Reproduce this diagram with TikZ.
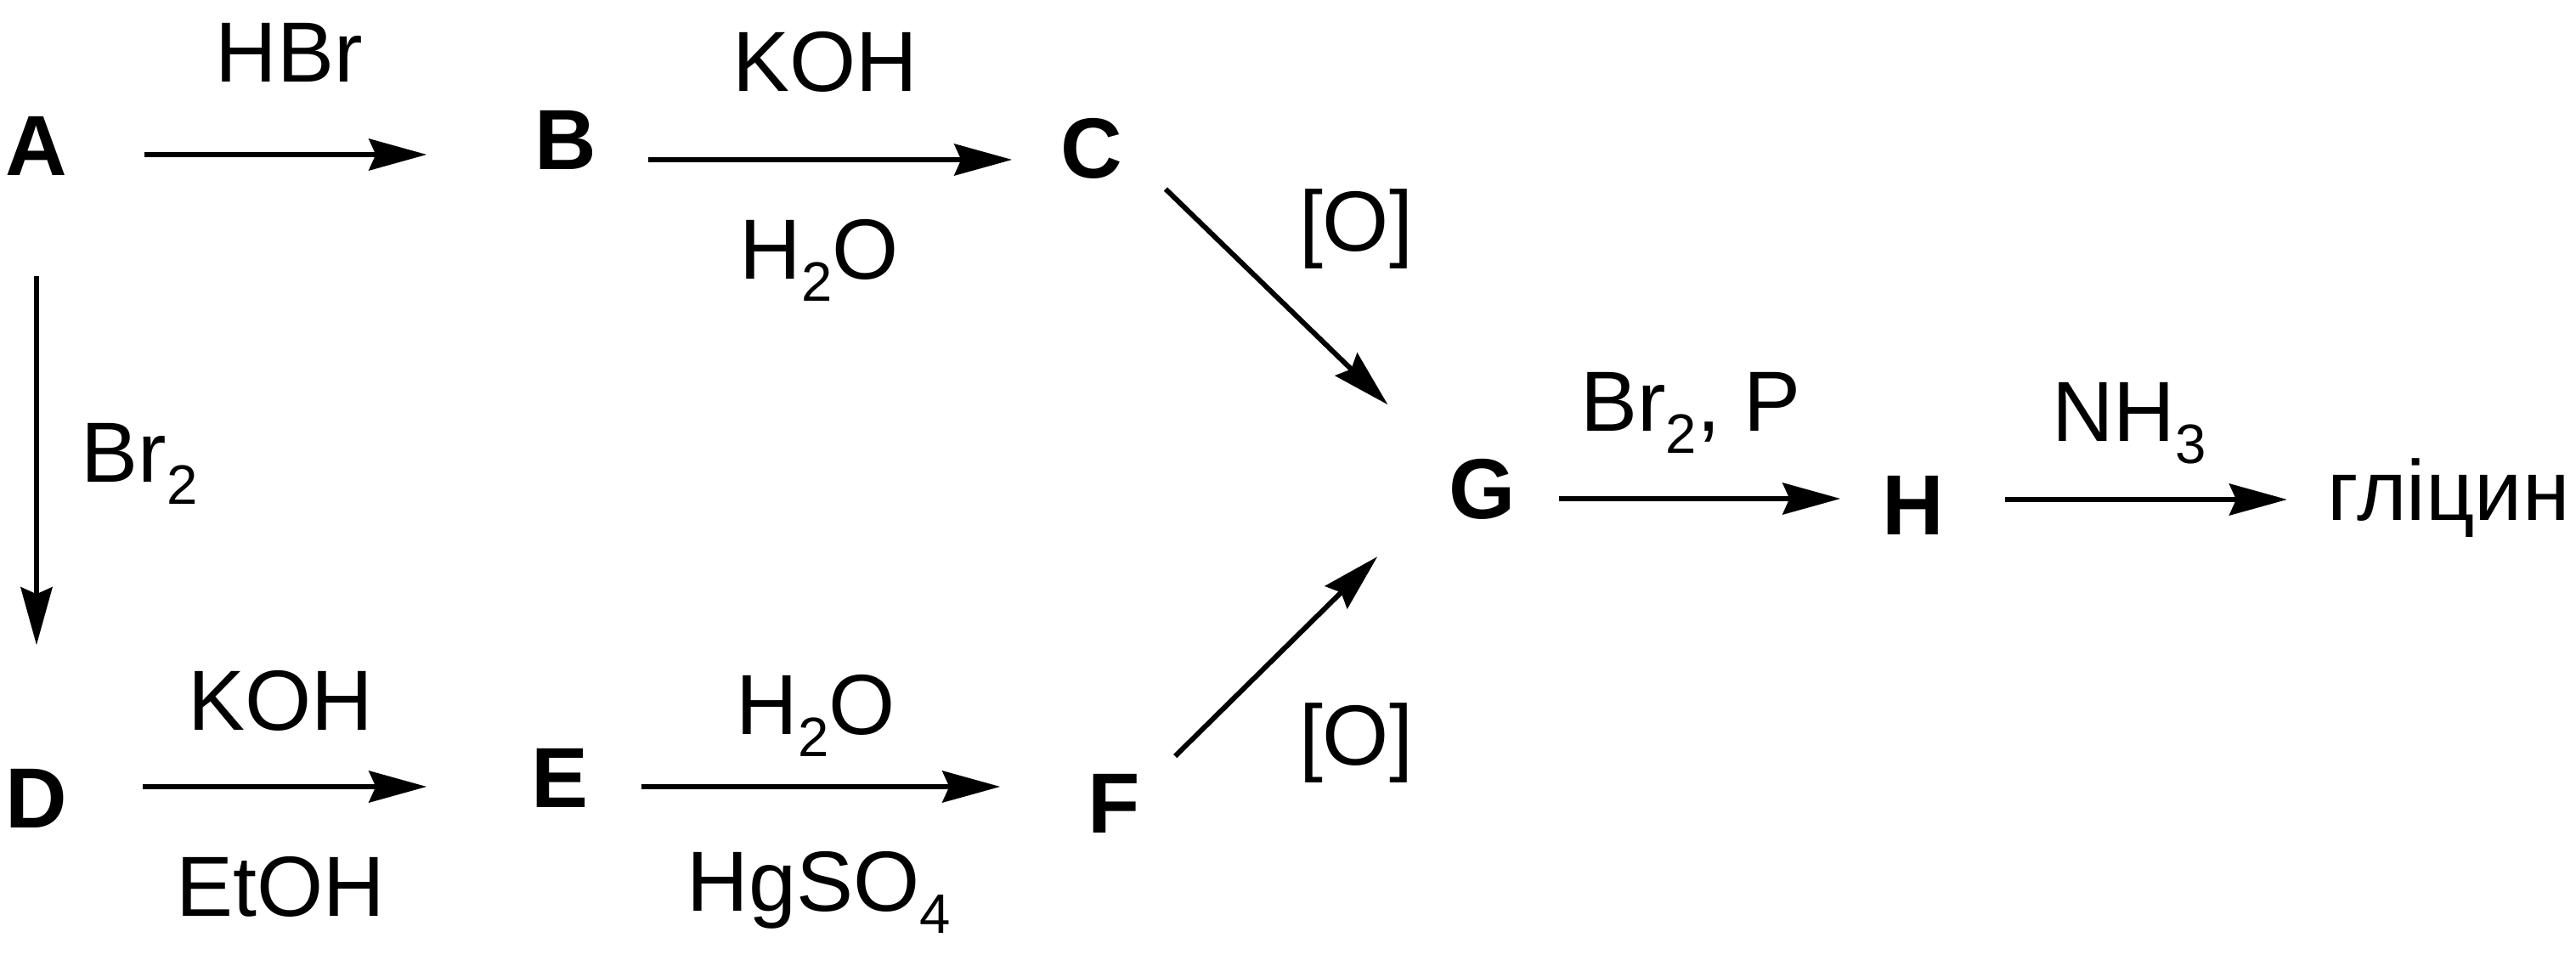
\documentclass[tikz,border=0pt]{standalone}
\usepackage{fontspec}
\setmainfont{Liberation Sans}
\usetikzlibrary{arrows.meta}
\newcommand{\chemsub}[1]{\raisebox{-.26cm}{\fontsize{18.6}{20}\selectfont #1}}
\begin{document}
\begin{tikzpicture}[
        cmpd/.style={font=\fontsize{28.6}{34}\selectfont\bfseries,inner sep=0,minimum width=.8cm,text height=.72cm,text depth=0cm},
        reag/.style={font=\fontsize{28.6}{34}\selectfont,inner sep=0,anchor=base},
        rxn/.style={line width=.06cm,-{Stealth[length=6.8mm,width=3.7mm,inset=.8mm]}}]
        \useasboundingbox (0,0) rectangle (30.32,-11.30);
        \node[cmpd] (A) at (0.43,-1.71) {A};
        \node[cmpd] (B) at (6.66,-1.64) {B};
        \node[cmpd] (C) at (12.85,-1.74) {C};
        \node[cmpd] (D) at (0.43,-9.39) {D};
        \node[cmpd] (E) at (6.59,-9.15) {E};
        \node[cmpd] (F) at (13.11,-9.45) {F};
        \node[cmpd] (G) at (17.45,-5.75) {G};
        \node[cmpd] (H) at (22.52,-5.94) {H};
        \node[reag,anchor=base west] (gly) at (27.39,-6.13) {гліцин};
        \node[reag] (hbr) at (3.40,-0.97) {HBr};
        \node[reag] (kohB) at (9.71,-1.08) {KOH};
        \node[reag] (watB) at (9.64,-3.29) {H\chemsub{2}O};
        \node[reag,anchor=base west] (brA) at (0.95,-5.68) {Br\chemsub{2}};
        \node[reag] (kohD) at (3.30,-8.60) {KOH};
        \node[reag] (etoh) at (3.30,-10.78) {EtOH};
        \node[reag] (watE) at (9.60,-8.65) {H\chemsub{2}O};
        \node[reag] (hgso) at (9.64,-10.72) {HgSO\chemsub{4}};
        \node[reag] (oxC) at (15.96,-2.96) {[O]};
        \node[reag] (oxF) at (15.96,-9.01) {[O]};
        \node[reag] (brP) at (19.90,-5.08) {Br\chemsub{2}, P};
        \node[reag] (nh) at (25.06,-5.20) {NH\chemsub{3}};
        \draw[rxn,shorten <=.86cm,shorten >=1.23cm] ([yshift=-.11cm]A.east) -- ([yshift=-.11cm]A.east -| B.west);
        \draw[rxn,shorten <=.56cm,shorten >=.53cm] ([yshift=-.24cm]B.east) -- ([yshift=-.24cm]B.east -| C.west);
        \draw[rxn,shorten <=1.17cm,shorten >=1.43cm] (A.south) -- (D.north);
        \draw[rxn,shorten <=.84cm,shorten >=1.16cm] ([yshift=.13cm]D.east) -- ([yshift=.13cm]D.east -| E.west);
        \draw[rxn,shorten <=.55cm,shorten >=.93cm] ([yshift=-.11cm]E.east) -- ([yshift=-.11cm]E.east -| F.west);
        \draw[rxn,shorten <=.17cm,shorten >=.89cm] ([xshift=.34cm]C.south east) -- ([xshift=-.07cm]G.north west);
        \draw[rxn,shorten <=.26cm,shorten >=.62cm] ([xshift=.13cm]F.north east) -- ([xshift=-.39cm]G.south west);
        \draw[rxn,shorten <=.49cm,shorten >=.45cm] ([yshift=-.12cm]G.east) -- ([yshift=-.12cm]G.east -| H.west);
        \draw[rxn,shorten <=.67cm,shorten >=.47cm] ([yshift=.06cm]H.east) -- ([yshift=.06cm]H.east -| gly.west);
\end{tikzpicture}
\end{document}
